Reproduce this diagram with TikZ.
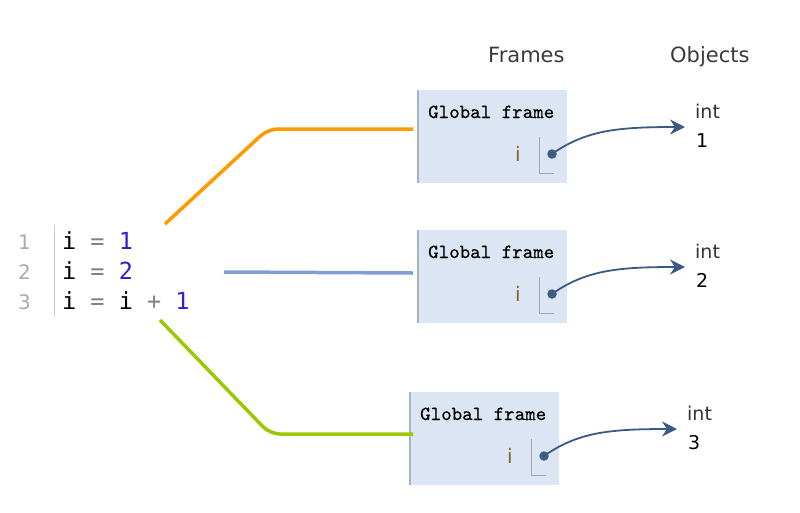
\documentclass[tikz,border=0pt]{standalone}
\usepackage{fontspec}
\setsansfont{DejaVu Sans}
\newfontfamily\codefont{DejaVu Sans Mono}
\newfontfamily\titlefont[FakeBold=0.5]{lmmono10-regular.otf}
\usetikzlibrary{arrows.meta}
\definecolor{framebg}{HTML}{DCE5F3}
\definecolor{frameedge}{HTML}{A9B3C0}
\definecolor{ptrblue}{HTML}{3B5B84}
\definecolor{numpurple}{HTML}{2E22CC}
\definecolor{lineorange}{HTML}{FF9A00}
\definecolor{lineblue}{HTML}{7F9ED8}
\definecolor{linegreen}{HTML}{9BC800}
\definecolor{vargold}{HTML}{7E6A1E}
\definecolor{headgray}{HTML}{3A3A3A}
\begin{document}
\begin{tikzpicture}[x=1pt,y=-1pt,
    frame/.style={fill=framebg,minimum width=149pt,minimum height=93pt,inner sep=0pt,anchor=north west},
    ftitle/.style={font=\titlefont\fontsize{20}{24}\selectfont,anchor=base west,inner sep=0pt},
    sanstxt/.style={font=\sffamily\fontsize{19}{22}\selectfont,anchor=base west,inner sep=0pt},
    headtxt/.style={font=\sffamily\fontsize{21}{24}\selectfont,text=headgray,anchor=base west,inner sep=0pt},
    codeline/.style={font=\codefont\fontsize{23.5}{28}\selectfont,anchor=base west,inner sep=0pt},
    lineno/.style={font=\sffamily\fontsize{20}{24}\selectfont,text=gray!65,anchor=base west,inner sep=0pt},
    ptr/.style={ptrblue,line width=1.8pt,-{Stealth[length=15pt,width=15pt,inset=5pt]}},
    link/.style={line width=3.5pt,rounded corners=10pt}]
  \useasboundingbox (0,0) rectangle (800,512);
  % code listing
  \node[lineno] (n1) at (18,249) {1};
  \node[lineno] (n2) at (18,279) {2};
  \node[lineno] (n3) at (18,309) {3};
  \draw[gray!40,line width=1pt] (54,225) -- (54,317);
  \node[codeline] (c1) at (62,249) {i \textcolor{gray}{=} \textcolor{numpurple}{1}};
  \node[codeline] (c2) at (62,279) {i \textcolor{gray}{=} \textcolor{numpurple}{2}};
  \node[codeline] (c3) at (62,309) {i \textcolor{gray}{=} i \textcolor{gray}{+} \textcolor{numpurple}{1}};
  % headers
  \node[headtxt] (hf) at (488,62) {Frames};
  \node[headtxt] (ho) at (670,62) {Objects};
  % frames and objects
  \foreach \n/\x/\y in {1/418/90,2/418/230,3/410/392}{
    \node[frame] (f\n) at (\x,\y) {};
    \draw[frameedge,line width=1.5pt] (f\n.north west) -- (f\n.south west);
    \node[ftitle] (t\n) at (\x+10,\y+28) {Global frame};
    \node[sanstxt,text=vargold,font=\sffamily\fontsize{20}{24}\selectfont] (i\n) at (\x+97,\y+71) {i};
    \draw[gray!70,line width=1pt] (\x+121,\y+47) -- (\x+121,\y+83) -- (\x+136,\y+83);
    \node[circle,fill=ptrblue,inner sep=0pt,minimum size=9.5pt] (d\n) at (\x+134,\y+64) {};
    \node[sanstxt,text=black!80] (o\n) at (\x+277,\y+28) {int};
    \node[sanstxt,text=black] (v\n) at (\x+278,\y+57) {\n};
    \coordinate (a\n) at (\x+267,\y+37);
    \draw[ptr] (d\n.center) .. controls (\x+168,\y+40) and (\x+200,\y+37) .. (a\n);
  }
  % links from code to frames
  \coordinate (s1) at (165,224);
  \coordinate (s2) at (224,272);
  \coordinate (s3) at (160,320);
  \coordinate (k1) at (413,129);
  \coordinate (k2) at (413,273);
  \coordinate (k3) at (413,434);
  \draw[link,lineorange] (s1) -- (268,129) -- (k1);
  \draw[link,lineblue] (s2) -- (k2);
  \draw[link,linegreen] (s3) -- (270,434) -- (k3);
\end{tikzpicture}
\end{document}
